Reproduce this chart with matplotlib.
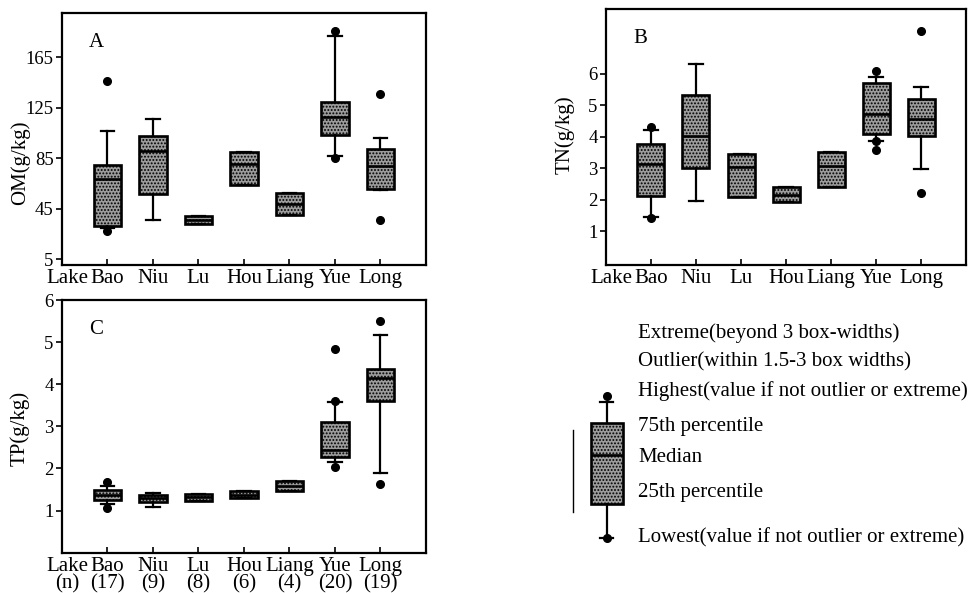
import matplotlib
matplotlib.use("Agg")
import matplotlib.pyplot as plt

plt.rcParams['font.family'] = ['Liberation Serif', 'DejaVu Serif']
plt.rcParams['font.size'] = 15
plt.rcParams['hatch.linewidth'] = 0.9

lakes = ['Bao', 'Niu', 'Lu', 'Hou', 'Liang', 'Yue', 'Long']
counts = [17, 9, 8, 6, 4, 20, 19]

# OM (g/kg)
om_q1 = [31, 56.4, 33, 64, 40.3, 103.6, 60.8]
om_med = [68.7, 90.4, 36, 80.6, 48.4, 117.5, 78.8]
om_q3 = [79.8, 102.5, 39.5, 89.8, 57.4, 129.4, 92.5]
om_lo = [29.5, 36, 33, 64, 40.3, 86.4, 59.5]
om_hi = [106.5, 116.2, 39.5, 89.8, 57.4, 181.6, 101.2]
om_out = [[146, 27], [], [], [], [], [185.6, 84.8], [135.5, 35.8]]

# TN (g/kg)
tn_q1 = [2.12, 3.02, 2.10, 1.94, 2.42, 4.08, 4.01]
tn_med = [3.14, 4.01, 3.03, 2.15, 3.08, 4.72, 4.56]
tn_q3 = [3.78, 5.32, 3.46, 2.42, 3.50, 5.70, 5.19]
tn_lo = [1.45, 1.96, 2.10, 1.94, 2.42, 3.87, 2.97]
tn_hi = [4.2, 6.29, 3.46, 2.42, 3.50, 5.89, 5.58]
tn_out = [[4.3, 1.42], [], [], [], [], [6.07, 3.87, 3.58], [7.35, 2.21]]

# TP (g/kg)
tp_q1 = [1.25, 1.20, 1.23, 1.29, 1.47, 2.27, 3.61]
tp_med = [1.37, 1.29, 1.32, 1.37, 1.59, 2.45, 4.15]
tp_q3 = [1.49, 1.36, 1.40, 1.47, 1.70, 3.11, 4.36]
tp_lo = [1.16, 1.09, 1.23, 1.29, 1.47, 2.16, 1.89]
tp_hi = [1.59, 1.41, 1.40, 1.47, 1.70, 3.59, 5.17]
tp_out = [[1.69, 1.07], [], [], [], [], [4.83, 3.6, 2.04], [5.51, 1.63]]

legend_labels = ['Extreme(beyond 3 box-widths)',
                 'Outlier(within 1.5-3 box widths)',
                 'Highest(value if not outlier or extreme)',
                 '75th percentile',
                 'Median',
                 '25th percentile',
                 'Lowest(value if not outlier or extreme)']

box_style = dict(facecolor='#9c9c9c', edgecolor='black', linewidth=1.9, hatch='.....')
line_style = dict(color='black', linewidth=1.6)
flier_style = dict(marker='o', markerfacecolor='black', markeredgecolor='black',
                   markersize=5.5, linestyle='none')


def stats(q1, med, q3, lo, hi, out):
    return [dict(q1=a, med=b, q3=c, whislo=d, whishi=e, fliers=f)
            for a, b, c, d, e, f in zip(q1, med, q3, lo, hi, out)]


def draw_box(ax, st, pos, width, capw):
    ax.bxp(st, positions=pos, widths=width, capwidths=capw, patch_artist=True,
           boxprops=box_style, whiskerprops=line_style, capprops=line_style,
           medianprops=dict(color='black', linewidth=1.9), flierprops=flier_style,
           manage_ticks=False)


def style_axes(ax, yticks, ylim, ylabel, letter, lab_y, labels, lake_label):
    pos = list(range(1, len(lakes) + 1))
    ax.set_xlim(0, 8)
    ax.set_ylim(*ylim)
    ax.set_yticks(yticks)
    ax.set_xticks(pos, labels)
    ax.set_xticks([0.12], [lake_label], minor=True)
    ax.tick_params(axis='y', direction='out', length=4, width=1.2, pad=2, labelsize=13.5)
    ax.tick_params(axis='x', which='major', direction='in', length=4, width=1.2, pad=3)
    ax.tick_params(axis='x', which='minor', direction='in', length=0, pad=3)
    for lbl in ax.get_xticklabels() + ax.get_xticklabels(minor=True):
        lbl.set_linespacing(0.9)
    for s in ax.spines.values():
        s.set_linewidth(1.6)
    ax.text(-0.115, lab_y, ylabel, transform=ax.transAxes, rotation=90,
            ha='center', va='center')
    ax.text(0.095, 0.885, letter, transform=ax.transAxes, ha='center', va='center')


fig = plt.figure(figsize=(9.68, 5.93), dpi=100)
axA = fig.add_axes([0.064, 0.553, 0.376, 0.425])
axB = fig.add_axes([0.626, 0.553, 0.372, 0.432])
axC = fig.add_axes([0.064, 0.068, 0.376, 0.426])

positions = list(range(1, len(lakes) + 1))
draw_box(axA, stats(om_q1, om_med, om_q3, om_lo, om_hi, om_out), positions, 0.6, 0.3)
draw_box(axB, stats(tn_q1, tn_med, tn_q3, tn_lo, tn_hi, tn_out), positions, 0.6, 0.3)
draw_box(axC, stats(tp_q1, tp_med, tp_q3, tp_lo, tp_hi, tp_out), positions, 0.6, 0.3)

style_axes(axA, [5, 45, 85, 125, 165], (0.3, 200), 'OM(g/kg)', 'A', 0.405, lakes, 'Lake')
style_axes(axB, [1, 2, 3, 4, 5, 6], (-0.07, 8.05), 'TN(g/kg)', 'B', 0.51, lakes, 'Lake')
c_labels = [f'{n}\n({c})' for n, c in zip(lakes, counts)]
style_axes(axC, [1, 2, 3, 4, 5, 6], (0, 6), 'TP(g/kg)', 'C', 0.49, c_labels, 'Lake\n(n)')

# legend key, drawn in its own axes (units = pixels inside that region)
axL = fig.add_axes([560 / 968, 1 - 560 / 593, 408 / 968, 245 / 593])
axL.set_xlim(0, 408)
axL.set_ylim(245, 0)
axL.axis('off')
key_y = [18, 47, 76, 112, 142, 177, 223]
key = [dict(q1=189, med=139.5, q3=107.5, whislo=223, whishi=87, fliers=[81, 223])]
axL.bxp(key, positions=[46.7], widths=32, capwidths=13, patch_artist=True,
        boxprops=box_style, whiskerprops=line_style, capprops=line_style,
        medianprops=dict(color='black', linewidth=1.9), flierprops=flier_style,
        manage_ticks=False)
axL.plot([12.7, 12.7], [115, 197], color='black', linewidth=1)
for y, txt in zip(key_y, legend_labels):
    axL.text(78, y, txt, ha='left', va='center')

fig.savefig('out.png', dpi=100)
